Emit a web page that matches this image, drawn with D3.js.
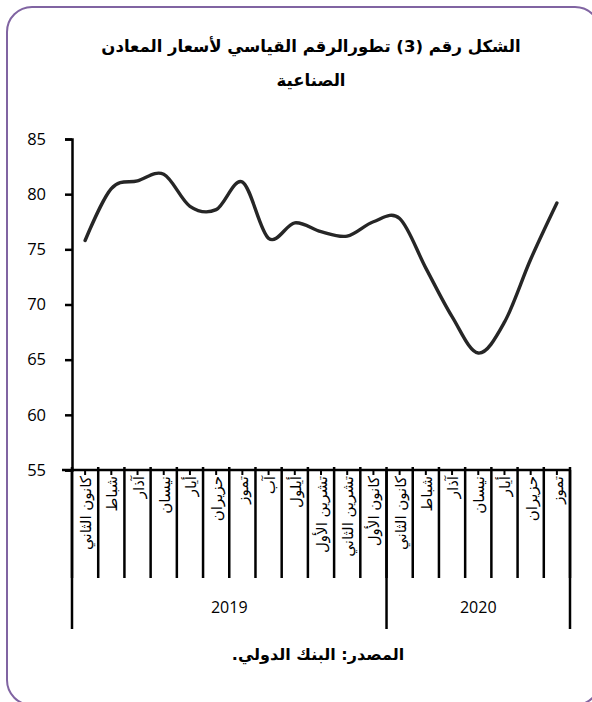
<!DOCTYPE html>
<html><head><meta charset="utf-8">
<script src="https://cdn.jsdelivr.net/npm/d3@7"></script>
<style>body{margin:0;background:#fff}svg{display:block}</style>
</head><body>
<svg id="c" width="592" height="702"></svg>
<script>
const months = ["كانون الثاني","شباط","آذار","نيسان","أيار","حزيران","تموز","آب","أيلول","تشرين الأول","تشرين الثاني","كانون الأول","كانون الثاني","شباط","آذار","نيسان","أيار","حزيران","تموز"];
const years = ["2019","2019","2019","2019","2019","2019","2019","2019","2019","2019","2019","2019","2020","2020","2020","2020","2020","2020","2020"];
const yearLabels = ["2019","2020"];
const values = [75.8,80.5,81.2,81.8,78.9,78.6,81.1,76.0,77.4,76.6,76.2,77.5,77.8,73.3,68.9,65.6,68.4,74.1,79.2];
const yTicks = [55,60,65,70,75,80,85];

const svg = d3.select("#c");
const arabic = "'DejaVu Sans', 'Noto Sans', sans-serif";
const latin = "'Open Sans', 'Noto Sans', sans-serif";

svg.append("rect").attr("x",7).attr("y",7).attr("width",593).attr("height",698)
  .attr("rx",25).attr("fill","#fff").attr("stroke","#8064A2").attr("stroke-width",2);

const L = 72, R = 570, T = 139, B = 470;
const keys = months.map((m,i)=>i);
const x = d3.scaleBand().domain(keys).range([L,R]);
const y = d3.scaleLinear().domain([55,85]).range([B,T]);

// title
const title = svg.append("text").attr("text-anchor","middle").attr("font-family",arabic)
  .attr("font-weight","bold").attr("font-size",16.5).attr("fill","#000").attr("direction","rtl");
title.append("tspan").attr("x",311).attr("y",52).text("الشكل رقم (3) تطورالرقم القياسي لأسعار المعادن");
title.append("tspan").attr("x",311).attr("y",86).text("الصناعية");

// y axis
const yAxis = d3.axisLeft(y).tickValues(yTicks).tickSize(7).tickPadding(19);
const gy = svg.append("g").attr("transform",`translate(${L},0)`).call(yAxis);
gy.select(".domain").attr("stroke","#000").attr("stroke-width",2.5);
gy.selectAll(".tick line").attr("stroke","#000").attr("stroke-width",2.5);
gy.selectAll(".tick text").attr("font-family",latin).attr("font-size",16.5).attr("fill","#000");

// x axis line
svg.append("line").attr("x1",L-10).attr("x2",R).attr("y1",B).attr("y2",B)
  .attr("stroke","#000").attr("stroke-width",2.5);

// category separators
const bounds = keys.map(k=>x(k)).concat([R]);
svg.append("g").selectAll("line").data(bounds).join("line")
  .attr("x1",d=>d).attr("x2",d=>d).attr("y1",B-3).attr("y2",578)
  .attr("stroke","#000").attr("stroke-width",2.5);
// small center ticks
svg.append("g").selectAll("line").data(keys).join("line")
  .attr("x1",k=>x(k)+x.bandwidth()/2).attr("x2",k=>x(k)+x.bandwidth()/2)
  .attr("y1",B).attr("y2",B+5).attr("stroke","#000").attr("stroke-width",2);

// month labels
svg.append("g").selectAll("text").data(keys).join("text")
  .attr("transform",k=>`translate(${x(k)+x.bandwidth()/2+1},${B+6}) rotate(-90)`)
  .attr("text-anchor","end").attr("dominant-baseline","central")
  .attr("font-family",arabic).attr("font-size",15).attr("fill","#000")
  .text(k=>months[k]);

// year groups
const yearBounds = yearLabels.map(yl=>{
  const idx = keys.filter(k=>years[k]===yl);
  return {label:yl, x0:x(idx[0]), x1:x(idx[idx.length-1])+x.bandwidth()};
});
const ybLines = [yearBounds[0].x0].concat(yearBounds.map(d=>d.x1));
svg.append("g").selectAll("line").data(ybLines).join("line")
  .attr("x1",d=>d).attr("x2",d=>d).attr("y1",B).attr("y2",629)
  .attr("stroke","#000").attr("stroke-width",2.5);
svg.append("g").selectAll("text").data(yearBounds).join("text")
  .attr("x",d=>(d.x0+d.x1)/2).attr("y",613).attr("text-anchor","middle")
  .attr("font-family",latin).attr("font-size",16).attr("fill","#000").text(d=>d.label);

// line
const line = d3.line().x((d,i)=>x(i)+x.bandwidth()/2).y(d=>y(d)).curve(d3.curveCardinal.tension(0));
svg.append("path").datum(values).attr("d",line).attr("fill","none")
  .attr("stroke","#262626").attr("stroke-width",3.4).attr("stroke-linecap","round");

// source
svg.append("text").attr("x",318).attr("y",660).attr("text-anchor","middle").attr("direction","rtl")
  .attr("font-family",arabic).attr("font-weight","bold").attr("font-size",16).attr("fill","#000")
  .text("المصدر: البنك الدولي.");
</script>
</body></html>
